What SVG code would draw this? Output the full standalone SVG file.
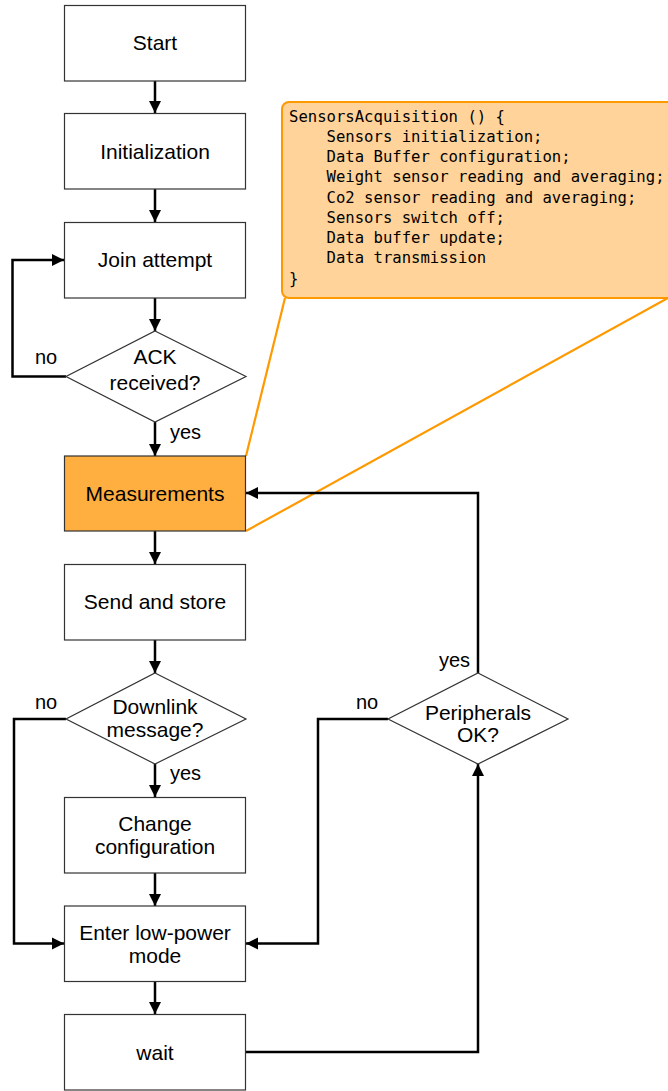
<svg xmlns="http://www.w3.org/2000/svg" width="668" height="1091" viewBox="0 0 668 1091">
<style>
.box{fill:#ffffff;stroke:#333333;stroke-width:1.2}
.hl{fill:#FFAF40;stroke:#333333;stroke-width:1.2}
.t{font-family:"Liberation Sans",Arial,sans-serif;font-size:21px;fill:#000;text-anchor:middle}
.lb{font-family:"Liberation Sans",Arial,sans-serif;font-size:20px;fill:#000}
.c{fill:none;stroke:#000;stroke-width:2.5}
.code{font-family:"DejaVu Sans Mono","Liberation Mono",monospace;font-size:15.6px;fill:#000;white-space:pre}
.call{fill:#FFD399;stroke:#FF9900;stroke-width:2}
.wedge{fill:none;stroke:#FF9900;stroke-width:2.2}
</style>
<defs>
<marker id="ah" markerUnits="userSpaceOnUse" markerWidth="13" markerHeight="13" refX="12" refY="6.5" orient="auto">
<path d="M0,0.5 L12,6.5 L0,12.5 z" fill="#000"/>
</marker>
</defs>
<rect width="668" height="1091" fill="#ffffff"/>

<g id="callout">
<rect class="call" x="282" y="102" width="394" height="196" rx="7"/>
<line class="wedge" x1="285" y1="298" x2="246" y2="456"/>
<line class="wedge" x1="668" y1="298" x2="246" y2="531"/>
<text class="code" x="289" xml:space="preserve"><tspan x="289" y="122">SensorsAcquisition () {</tspan><tspan x="289" y="142">    Sensors initialization;</tspan><tspan x="289" y="162">    Data Buffer configuration;</tspan><tspan x="289" y="182">    Weight sensor reading and averaging;</tspan><tspan x="289" y="203">    Co2 sensor reading and averaging;</tspan><tspan x="289" y="223">    Sensors switch off;</tspan><tspan x="289" y="243">    Data buffer update;</tspan><tspan x="289" y="263">    Data transmission</tspan><tspan x="289" y="284">}</tspan></text>
</g>

<g id="connectors">
<line class="c" x1="155" y1="81" x2="155" y2="113" marker-end="url(#ah)"/>
<line class="c" x1="155" y1="189" x2="155" y2="222" marker-end="url(#ah)"/>
<line class="c" x1="155" y1="298" x2="155" y2="331" marker-end="url(#ah)"/>
<polyline class="c" points="66,376.5 12.5,376.5 12.5,260 64,260" marker-end="url(#ah)"/>
<line class="c" x1="155" y1="422" x2="155" y2="456" marker-end="url(#ah)"/>
<line class="c" x1="155" y1="531" x2="155" y2="564" marker-end="url(#ah)"/>
<line class="c" x1="155" y1="640" x2="155" y2="673" marker-end="url(#ah)"/>
<line class="c" x1="155" y1="764" x2="155" y2="797" marker-end="url(#ah)"/>
<polyline class="c" points="66,719 14,719 14,943.5 64,943.5" marker-end="url(#ah)"/>
<line class="c" x1="155" y1="873" x2="155" y2="906" marker-end="url(#ah)"/>
<line class="c" x1="155" y1="981" x2="155" y2="1014" marker-end="url(#ah)"/>
<polyline class="c" points="246,1052 478,1052 478,764" marker-end="url(#ah)"/>
<polyline class="c" points="388,719 318,719 318,943.5 246,943.5" marker-end="url(#ah)"/>
<polyline class="c" points="478,673 478,493 246,493" marker-end="url(#ah)"/>
<text class="lb" x="35" y="364">no</text>
<text class="lb" x="170" y="439">yes</text>
<text class="lb" x="35" y="709">no</text>
<text class="lb" x="170" y="780">yes</text>
<text class="lb" x="356" y="709">no</text>
<text class="lb" x="439" y="667">yes</text>
</g>

<g id="start"><rect class="box" x="64.5" y="5.5" width="181" height="75.5"/><text class="t" x="155" y="50">Start</text></g>
<g id="init"><rect class="box" x="64.5" y="113.5" width="181" height="75.5"/><text class="t" x="155" y="159">Initialization</text></g>
<g id="join"><rect class="box" x="64.5" y="222.5" width="181" height="75.5"/><text class="t" x="155" y="267">Join attempt</text></g>
<g id="ack"><polygon class="box" points="155,331 246,376.5 155,422 66,376.5"/><text class="t" x="155" y="364">ACK</text><text class="t" x="155" y="390">received?</text></g>
<g id="measurements"><rect class="hl" x="64.5" y="456" width="181" height="75"/><text class="t" x="155" y="501">Measurements</text></g>
<g id="send"><rect class="box" x="64.5" y="564.5" width="181" height="75.5"/><text class="t" x="155" y="609">Send and store</text></g>
<g id="downlink"><polygon class="box" points="155,673 246,719 155,764 66,719"/><text class="t" x="155" y="714">Downlink</text><text class="t" x="155" y="737">message?</text></g>
<g id="change"><rect class="box" x="64.5" y="797.5" width="181" height="75.5"/><text class="t" x="155" y="831">Change</text><text class="t" x="155" y="854">configuration</text></g>
<g id="lowpower"><rect class="box" x="64.5" y="906" width="181" height="75.5"/><text class="t" x="155" y="940">Enter low-power</text><text class="t" x="155" y="963">mode</text></g>
<g id="wait"><rect class="box" x="64.5" y="1014.5" width="181" height="75.5"/><text class="t" x="155" y="1060">wait</text></g>
<g id="peripherals"><polygon class="box" points="478,673 568,719 478,764 388,719"/><text class="t" x="478" y="720">Peripherals</text><text class="t" x="478" y="742">OK?</text></g>
</svg>
